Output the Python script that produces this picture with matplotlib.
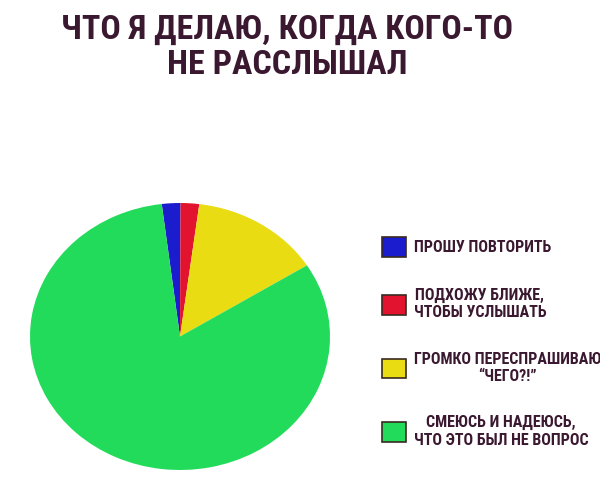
import matplotlib
matplotlib.use("Agg")
import matplotlib.pyplot as plt

labels = [
    "ПРОШУ ПОВТОРИТЬ",
    "ПОДХОЖУ БЛИЖЕ,\nЧТОБЫ УСЛЫШАТЬ",
    "ГРОМКО ПЕРЕСПРАШИВАЮ\n“ЧЕГО?!”",
    "СМЕЮСЬ И НАДЕЮСЬ,\nЧТО ЭТО БЫЛ НЕ ВОПРОС",
]
shares = [2, 2, 14, 82]
colors = ["#1c1ccf", "#e2132e", "#e9dc12", "#22db5a"]
title = "ЧТО Я ДЕЛАЮ, КОГДА КОГО-ТО\nНЕ РАССЛЫШАЛ"

font = ["Roboto Condensed", "DejaVu Sans Condensed", "DejaVu Sans"]
text_color = "#3a1830"

fig = plt.figure(figsize=(6, 5), dpi=100)
fig.patch.set_facecolor("white")

ax = fig.add_axes([0.05, 0.06, 0.50, 0.534])
wedges, _ = ax.pie(shares, colors=colors, startangle=97, counterclock=False,
                   wedgeprops=dict(linewidth=0))
ax.set_xlim(-1.0, 1.0)
ax.set_ylim(-1.0, 1.0)
ax.set_aspect("auto")

fig.text(0.478, 0.972, title, ha="center", va="top", fontsize=24.5,
         fontweight="bold", family=font, fontstretch="condensed",
         color=text_color, linespacing=1.12)

leg = fig.legend(wedges, labels, loc="upper left", bbox_to_anchor=(0.612, 0.554),
                 frameon=False, handlelength=1.5, handleheight=1.5,
                 labelspacing=1.95, handletextpad=0.5,
                 prop=dict(family=font, weight="bold", size=11.5, stretch="condensed"))
for t in leg.get_texts():
    t.set_multialignment("center")
    t.set_color(text_color)
for h in leg.legend_handles:
    h.set_edgecolor("#3a2a20")
    h.set_linewidth(1.2)

fig.savefig("out.png", dpi=100)
